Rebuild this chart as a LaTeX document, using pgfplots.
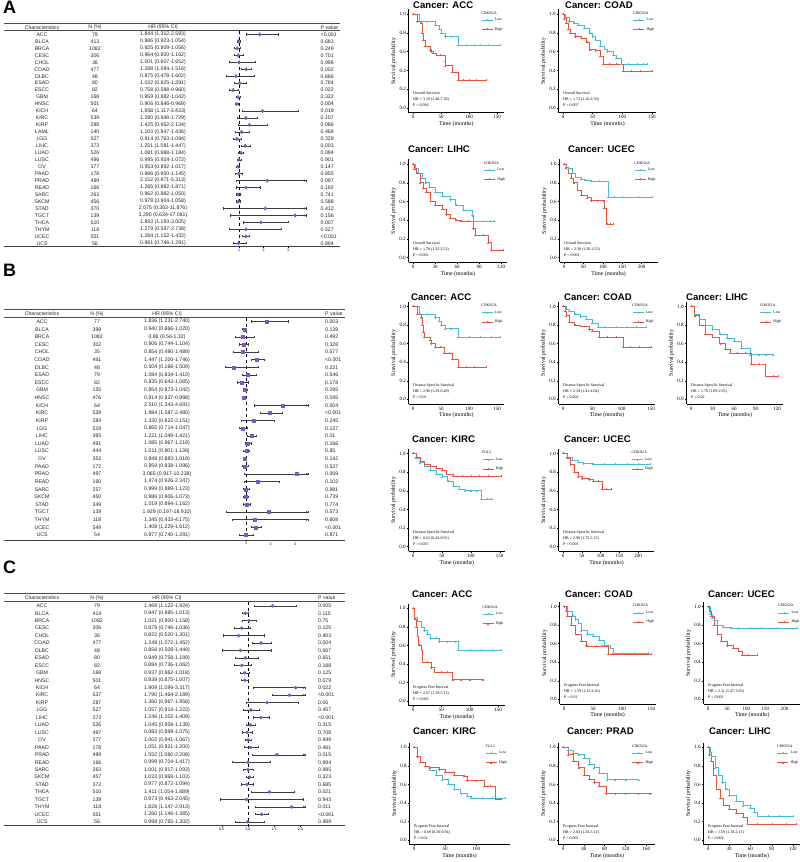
\documentclass[border=0pt]{standalone}
\usepackage{pgfplots}
\pgfplotsset{compat=1.18}
\usepackage{pgfplotstable}
\usetikzlibrary{arrows.meta}
\usepackage{fontspec}
\setmainfont{Liberation Sans}
\newfontfamily\kmf{Liberation Serif}
\definecolor{lowc}{RGB}{68,187,215}
\definecolor{highc}{RGB}{233,83,62}
\definecolor{purp}{RGB}{124,88,192}
\definecolor{whisk}{RGB}{60,60,60}

\pgfplotstableread[col sep=comma]{
name,n,hr,lo,hi,hrtxt,p
ACC,79,1.844,1.312,2.593,1.844 (1.312-2.593),<0.001
BLCA,413,0.986,0.923,1.054,0.986 (0.923-1.054),0.683
BRCA,1082,0.925,0.809,1.056,0.925 (0.809-1.056),0.249
CESC,306,0.964,0.800,1.162,0.964 (0.800-1.162),0.701
CHOL,36,1.001,0.607,1.652,1.001 (0.607-1.652),0.996
COAD,477,1.288,1.094,1.516,1.288 (1.094-1.516),0.002
DLBC,48,0.875,0.478,1.602,0.875 (0.478-1.602),0.666
ESAD,80,1.032,0.825,1.291,1.032 (0.825-1.291),0.784
ESCC,82,0.758,0.598,0.960,0.758 (0.598-0.960),0.022
GBM,168,0.959,0.882,1.042,0.959 (0.882-1.042),0.322
HNSC,501,0.906,0.846,0.969,0.906 (0.846-0.969),0.004
KICH,64,1.958,1.117,3.433,1.958 (1.117-3.433),0.019
KIRC,539,1.280,0.948,1.729,1.280 (0.948-1.729),0.107
KIRP,288,1.425,0.952,2.134,1.425 (0.952-2.134),0.086
LAML,140,1.103,0.847,1.436,1.103 (0.847-1.436),0.468
LGG,527,0.914,0.763,1.094,0.914 (0.763-1.094),0.329
LIHC,373,1.251,1.081,1.447,1.251 (1.081-1.447),0.003
LUAD,526,1.081,0.988,1.184,1.081 (0.988-1.184),0.094
LUSC,496,0.995,0.924,1.072,0.995 (0.924-1.072),0.901
OV,377,0.953,0.892,1.017,0.953 (0.892-1.017),0.147
PAAD,178,0.986,0.850,1.145,0.986 (0.850-1.145),0.855
PRAD,499,2.152,0.871,5.313,2.152 (0.871-5.313),0.097
READ,166,1.285,0.882,1.871,1.285 (0.882-1.871),0.192
SARC,263,0.962,0.882,1.050,0.962 (0.882-1.050),0.741
SKCM,456,0.978,0.904,1.058,0.978 (0.904-1.058),0.588
STAD,370,2.075,0.363,11.876,2.075 (0.363-11.876),0.412
TGCT,139,3.290,0.634,17.081,3.290 (0.634-17.081),0.156
THCA,510,1.893,1.193,3.005,1.893 (1.193-3.005),0.007
THYM,118,1.279,0.597,2.738,1.279 (0.597-2.738),0.527
UCEC,551,1.284,1.152,1.432,1.284 (1.152-1.432),<0.001
UCS,56,0.981,0.746,1.291,0.981 (0.746-1.291),0.894
}\tabA

\pgfplotstableread[col sep=comma]{
name,n,hr,lo,hi,hrtxt,p
ACC,77,1.836,1.231,2.740,1.836 (1.231-2.740),0.003
BLCA,399,0.940,0.866,1.020,0.940 (0.866-1.020),0.139
BRCA,1082,0.86,0.56,1.32,0.86 (0.56-1.32),0.492
CESC,302,0.906,0.744,1.104,0.906 (0.744-1.104),0.328
CHOL,35,0.854,0.490,1.489,0.854 (0.490-1.489),0.577
COAD,461,1.447,1.200,1.746,1.447 (1.200-1.746),<0.001
DLBC,48,0.504,0.168,1.509,0.504 (0.168-1.509),0.221
ESAD,79,1.084,0.834,1.410,1.084 (0.834-1.410),0.546
ESCC,82,0.835,0.643,1.085,0.835 (0.643-1.085),0.178
GBM,155,0.954,0.873,1.042,0.954 (0.873-1.042),0.295
HNSC,476,0.914,0.837,0.998,0.914 (0.837-0.998),0.045
KICH,64,2.510,1.343,4.691,2.510 (1.343-4.691),0.004
KIRC,528,1.984,1.587,2.480,1.984 (1.587-2.480),<0.001
KIRP,284,1.330,0.822,2.151,1.330 (0.822-2.151),0.245
LGG,519,0.865,0.714,1.047,0.865 (0.714-1.047),0.137
LIHC,365,1.221,1.049,1.421,1.221 (1.049-1.421),0.01
LUAD,491,1.085,0.967,1.218,1.085 (0.967-1.218),0.166
LUSC,444,1.011,0.901,1.136,1.011 (0.901-1.136),0.85
OV,352,0.948,0.883,1.018,0.948 (0.883-1.018),0.142
PAAD,172,0.959,0.838,1.096,0.959 (0.838-1.096),0.537
PRAD,497,3.065,0.917,10.238,3.065 (0.917-10.238),0.069
READ,160,1.474,0.926,2.347,1.474 (0.926-2.347),0.102
SARC,257,0.999,0.889,1.123,0.999 (0.889-1.123),0.981
SKCM,450,0.986,0.906,1.073,0.986 (0.906-1.073),0.739
STAD,349,1.019,0.894,1.162,1.019 (0.894-1.162),0.774
TGCT,139,1.929,0.197,18.910,1.929 (0.197-18.910),0.573
THYM,118,1.345,0.433,4.175,1.345 (0.433-4.175),0.608
UCEC,549,1.408,1.229,1.612,1.408 (1.229-1.612),<0.001
UCS,54,0.977,0.740,1.291,0.977 (0.740-1.291),0.871
}\tabB

\pgfplotstableread[col sep=comma]{
name,n,hr,lo,hi,hrtxt,p
ACC,79,1.469,1.122,1.924,1.469 (1.122-1.924),0.005
BLCA,414,0.947,0.885,1.013,0.947 (0.885-1.013),0.115
BRCA,1082,1.021,0.900,1.158,1.021 (0.900-1.158),0.75
CESC,306,0.879,0.746,1.036,0.879 (0.746-1.036),0.125
CHOL,36,0.822,0.520,1.301,0.822 (0.520-1.301),0.403
COAD,477,1.248,1.072,1.452,1.248 (1.072-1.452),0.004
DLBC,48,0.858,0.508,1.449,0.858 (0.508-1.449),0.567
ESAD,80,0.949,0.758,1.189,0.949 (0.758-1.189),0.651
ESCC,82,0.884,0.736,1.062,0.884 (0.736-1.062),0.188
GBM,168,0.937,0.862,1.018,0.937 (0.862-1.018),0.125
HNSC,501,0.939,0.875,1.007,0.939 (0.875-1.007),0.079
KICH,64,1.909,1.099,3.317,1.909 (1.099-3.317),0.022
KIRC,537,1.790,1.464,2.189,1.790 (1.464-2.189),<0.001
KIRP,287,1.360,0.967,1.958,1.360 (0.967-1.958),0.06
LGG,527,1.057,0.914,1.223,1.057 (0.914-1.223),0.457
LIHC,373,1.246,1.102,1.409,1.246 (1.102-1.409),<0.001
LUAD,526,1.045,0.958,1.139,1.045 (0.958-1.139),0.315
LUSC,497,0.983,0.899,1.075,0.983 (0.899-1.075),0.708
OV,377,1.002,0.941,1.067,1.002 (0.941-1.067),0.949
PAAD,178,1.051,0.921,1.200,1.051 (0.921-1.200),0.461
PRAD,499,1.552,1.090,2.208,1.552 (1.090-2.208),0.015
READ,166,0.999,0.704,1.417,0.999 (0.704-1.417),0.994
SARC,263,1.001,0.917,1.093,1.001 (0.917-1.093),0.985
SKCM,457,1.033,0.968,1.103,1.033 (0.968-1.103),0.323
STAD,372,0.977,0.872,1.094,0.977 (0.872-1.094),0.685
THCA,510,1.411,1.054,1.889,1.411 (1.054-1.889),0.021
TGCT,139,0.973,0.463,2.045,0.973 (0.463-2.045),0.943
THYM,118,1.828,1.147,2.913,1.828 (1.147-2.913),0.011
UCEC,551,1.260,1.146,1.385,1.260 (1.146-1.385),<0.001
UCS,56,0.998,0.765,1.302,0.998 (0.765-1.302),0.989
}\tabC

\pgfplotsset{
  km/.style={scale only axis, anchor=origin, axis lines=left,
    axis line style={-, line width=0.4pt},
    ymin=-0.05, ymax=1.05, ytick={0,0.2,0.4,0.6,0.8,1},
    yticklabel style={/pgf/number format/.cd, fixed, fixed zerofill, precision=1},
    /pgf/number format/assume math mode=true,
    tick align=outside, major tick length=1.5pt,
    tick style={black, line width=0.4pt},
    tick label style={font=\kmf\fontsize{5}{6}\selectfont, inner sep=1.2pt},
    label style={font=\kmf\fontsize{5.8}{7}\selectfont},
    xlabel={Time (months)}, ylabel={Survival probability},
    xlabel style={yshift=2pt}, ylabel style={yshift=-1.5pt},
    clip=false,
    legend style={at={(rel axis cs:0.76,0.935)}, anchor=north west, draw=none, fill=none,
      font=\kmf\fontsize{3.8}{4.5}\selectfont, inner sep=0pt, row sep=1.2pt,
      cells={anchor=west}},
    legend image code/.code={\draw[mark repeat=2, mark phase=2, ##1] plot coordinates {(0pt,0pt) (5.5pt,0pt) (11pt,0pt)};},
  },
  low/.style={lowc, const plot, mark=+, mark size=1pt, line width=0.5pt, mark options={line width=0.35pt}},
  high/.style={highc, const plot, mark=+, mark size=1pt, line width=0.5pt, mark options={line width=0.35pt}},
  kmat/.style n args={3}{at={(#1)}, width=#2pt, height=#3pt},
  fst/.style={scale only axis, anchor=south west, axis x line=bottom, axis y line=none,
    axis line style={-, line width=0.9pt, black!75}, ytick=\empty,
    tick align=outside, major tick length=1.3pt, tick style={line width=0.3pt, black},
    /pgf/number format/assume math mode=true,
    xticklabel style={font=\fontsize{3.6}{4}\selectfont, inner sep=1pt},
    clip=false},
  col/.style={draw=none, mark=none, nodes near coords, point meta=explicit symbolic,
    every node near coord/.append style={anchor=center, font=\fontsize{5.2}{6}\selectfont, inner sep=0pt, text=black!85}},
  colw/.style={col, every node near coord/.append style={anchor=west}},
  whiskers/.style={error bars/.cd, x dir=both, x explicit, error bar style={whisk, line width=0.5pt},
    error mark=|, error mark options={whisk, mark size=1.1pt, line width=0.5pt}},
}
\tikzset{
  kmleg/.style={anchor=south west, inner sep=0pt, font=\kmf\fontsize{3.8}{4.5}\selectfont},
  kmtxt/.style={anchor=north west, inner sep=0pt, align=left, font=\kmf\fontsize{4}{6}\selectfont},
  hdr/.style={font=\fontsize{5.2}{6}\selectfont, inner sep=0pt, text=black!85},
  kmtitle/.style={anchor=base west, inner sep=0pt, font=\bfseries\fontsize{9.6}{11}\selectfont},
  plab/.style={anchor=north west, inner sep=0pt, font=\bfseries\fontsize{18}{20}\selectfont},
}

\begin{document}
\begin{tikzpicture}[x=1pt,y=1pt]
\useasboundingbox (0,0) rectangle (800,862);
% anchor points of all axes
\coordinate (fA) at (4,615.3);
\coordinate (fB) at (4,322);
\coordinate (fC) at (4,36.3);
\coordinate (kA1) at (413,754);
\coordinate (kA2) at (563,754);
\coordinate (kA3) at (413,604.3);
\coordinate (kA4) at (564,604.3);
\coordinate (kB1) at (413,462.7);
\coordinate (kB2) at (563,462.7);
\coordinate (kB3) at (691,462.7);
\coordinate (kB4) at (413,315.3);
\coordinate (kB5) at (563,315.3);
\coordinate (kC1) at (413,161);
\coordinate (kC2) at (564,162.7);
\coordinate (kC3) at (708,162.7);
\coordinate (kC4) at (414,22);
\coordinate (kC5) at (563,22);
\coordinate (kC6) at (708,22);

% panel labels
\node[plab] at (3,861) {A};
\node[plab] at (3,598) {B};
\node[plab] at (3,301) {C};

% ================= FOREST A =================
\begin{axis}[fst, at={(fA)}, width=336pt, height=223.7pt,
  xmin=-8.592, xmax=5.122, ymin=-30.49, ymax=1.65, xtick={1,2,3}]
\draw[line width=0.5pt, black!70] (axis cs:-8.592,1.65) -- (axis cs:5.122,1.65);
\draw[line width=0.4pt, black!70] (axis cs:-8.592,0.59) -- (axis cs:5.122,0.59);
\draw[dashed, line width=0.5pt] (axis cs:1,0.5) -- (axis cs:1,-30.49);
\node[hdr] at (axis cs:-7.041,1.02) {Characteristics};
\node[hdr] at (axis cs:-4.878,1.02) {N (\%)};
\node[hdr] at (axis cs:-2.102,1.02) {HR (95\% CI)};
\node[hdr, anchor=west] at (axis cs:4.327,1.02) {P value};
\addplot[col] table[x expr=-7.041, y expr=-\coordindex, meta=name] {\tabA};
\addplot[col] table[x expr=-4.878, y expr=-\coordindex, meta=n] {\tabA};
\addplot[col] table[x expr=-2.102, y expr=-\coordindex, meta=hrtxt] {\tabA};
\addplot[colw] table[x expr=4.327, y expr=-\coordindex, meta=p] {\tabA};
\addplot[only marks, mark=diamond*, mark size=1.8pt, purp, whiskers]
  table[x=hr, y expr=-\coordindex, x error plus expr={min(\thisrow{hi},3.735)-\thisrow{hr}},
        x error minus expr={\thisrow{hr}-\thisrow{lo}}] {\tabA};
\addplot[whisk, line width=0.5pt, -{Stealth[length=2.4pt,width=2.2pt]}, quiver={u=0.12,v=0}, mark=none]
  coordinates {(3.62,-21) (3.62,-25) (3.62,-26)};
\end{axis}

% ================= FOREST B =================
\begin{axis}[fst, at={(fB)}, width=341pt, height=231.1pt,
  xmin=-8.878, xmax=5.041, ymin=-28.66, ymax=1.667, xtick={1,2,3}]
\draw[line width=0.5pt, black!70] (axis cs:-8.878,1.667) -- (axis cs:5.041,1.667);
\draw[line width=0.4pt, black!70] (axis cs:-8.878,0.55) -- (axis cs:5.041,0.55);
\draw[dashed, line width=0.5pt] (axis cs:1,0.5) -- (axis cs:1,-28.66);
\node[hdr] at (axis cs:-7.327,1.01) {Characteristics};
\node[hdr] at (axis cs:-5.082,1.01) {N (\%)};
\node[hdr] at (axis cs:-2.224,1.01) {HR (95\% CI)};
\node[hdr, anchor=west] at (axis cs:4.224,1.01) {P value};
\addplot[col] table[x expr=-7.327, y expr=-\coordindex, meta=name] {\tabB};
\addplot[col] table[x expr=-5.082, y expr=-\coordindex, meta=n] {\tabB};
\addplot[col] table[x expr=-2.224, y expr=-\coordindex, meta=hrtxt] {\tabB};
\addplot[colw] table[x expr=4.224, y expr=-\coordindex, meta=p] {\tabB};
\addplot[only marks, mark=square*, mark size=1.5pt, purp, whiskers]
  table[x=hr, y expr=-\coordindex, x error plus expr={min(\thisrow{hi},3.531)-\thisrow{hr}},
        x error minus expr={\thisrow{hr}-\thisrow{lo}}] {\tabB};
\addplot[whisk, line width=0.5pt, -{Stealth[length=2.4pt,width=2.2pt]}, quiver={u=0.12,v=0}, mark=none]
  coordinates {(3.416,-11) (3.416,-20) (3.416,-25) (3.416,-26)};
\end{axis}

% ================= FOREST C =================
\begin{axis}[fst, at={(fC)}, width=341pt, height=232.6pt,
  xmin=-3.648, xmax=2.848, ymin=-29.52, ymax=1.705, xtick={0.5,1,1.5,2},
  xticklabel style={/pgf/number format/.cd, fixed, fixed zerofill, precision=1}]
\draw[line width=0.5pt, black!70] (axis cs:-3.648,1.705) -- (axis cs:2.848,1.705);
\draw[line width=0.4pt, black!70] (axis cs:-3.648,0.56) -- (axis cs:2.848,0.56);
\draw[dashed, line width=0.5pt] (axis cs:1,0.5) -- (axis cs:1,-29.52);
\node[hdr] at (axis cs:-2.924,1.07) {Characteristics};
\node[hdr] at (axis cs:-1.876,1.07) {N (\%)};
\node[hdr] at (axis cs:-0.543,1.07) {HR (95\% CI)};
\node[hdr, anchor=west] at (axis cs:2.333,1.07) {P value};
\addplot[col] table[x expr=-2.924, y expr=-\coordindex, meta=name] {\tabC};
\addplot[col] table[x expr=-1.876, y expr=-\coordindex, meta=n] {\tabC};
\addplot[col] table[x expr=-0.543, y expr=-\coordindex, meta=hrtxt] {\tabC};
\addplot[colw] table[x expr=2.333, y expr=-\coordindex, meta=p] {\tabC};
\addplot[only marks, mark=*, mark size=1.6pt, purp, whiskers]
  table[x=hr, y expr=-\coordindex, x error plus expr={min(\thisrow{hi},2.086)-\thisrow{hr}},
        x error minus expr={\thisrow{hr}-\thisrow{lo}}] {\tabC};
\addplot[whisk, line width=0.5pt, -{Stealth[length=2.4pt,width=2.2pt]}, quiver={u=0.055,v=0}, mark=none]
  coordinates {(2.031,-11) (2.031,-12) (2.031,-20) (2.031,-27)};
\end{axis}

% ================= KM titles =================
\node[kmtitle] at (413,853) {Cancer: ACC};
\node[kmtitle] at (565,853) {Cancer: COAD};
\node[kmtitle] at (408,709) {Cancer: LIHC};
\node[kmtitle] at (568,709) {Cancer: UCEC};
\node[kmtitle] at (411,561) {Cancer: ACC};
\node[kmtitle] at (564,561) {Cancer: COAD};
\node[kmtitle] at (686,561) {Cancer: LIHC};
\node[kmtitle] at (412,419) {Cancer: KIRC};
\node[kmtitle] at (564,419) {Cancer: UCEC};
\node[kmtitle] at (412,264) {Cancer: ACC};
\node[kmtitle] at (565,264) {Cancer: COAD};
\node[kmtitle] at (708,264) {Cancer: UCEC};
\node[kmtitle] at (413,127) {Cancer: KIRC};
\node[kmtitle] at (567,127) {Cancer: PRAD};
\node[kmtitle] at (709,127) {Cancer: LIHC};

% ---------- A ACC ----------
\begin{axis}[km, kmat={kA1}{95.48}{103.4}, xmin=-7.75, xmax=162.75, xtick={0,50,100,150}]
\addplot[low] coordinates {(0,1) (12,0.92) (25,0.92) (39,0.88) (46,0.84) (50,0.80) (57,0.76) (68,0.76) (80,0.667) (95,0.667) (110,0.667) (120,0.667) (135,0.667) (155,0.667)}; \addlegendentry{Low}
\addplot[high] coordinates {(0,1) (8,0.92) (15,0.9) (16,0.80) (18,0.72) (21,0.66) (30,0.62) (33,0.60) (36,0.58) (42,0.56) (48,0.56) (57,0.50) (58,0.45) (70,0.38) (80,0.30) (90,0.30) (100,0.30) (112,0.30) (130,0.30)}; \addlegendentry{High}
\node[kmleg] at (rel axis cs:0.76,0.95) {CDKN2A};
\node[kmtxt] at (axis cs:0,0.172) {Overall Survival\\HR = 3.19 (1.40-7.28)\\P = 0.006};
\end{axis}

% ---------- A COAD ----------
\begin{axis}[km, kmat={kA2}{97.85}{103.4}, xmin=-7.5, xmax=157.5, xtick={0,50,100,150}]
\addplot[low] coordinates {(0,1) (3,0.97) (10,0.92) (18,0.90) (25,0.88) (35,0.85) (45,0.80) (50,0.76) (55,0.72) (63,0.66) (70,0.63) (75,0.60) (85,0.56) (90,0.53) (98,0.47) (110,0.47) (125,0.47) (135,0.47) (142,0.47)}; \addlegendentry{Low}
\addplot[high] coordinates {(0,1) (2,0.95) (5,0.90) (8,0.84) (12,0.80) (20,0.76) (30,0.74) (40,0.70) (45,0.62) (55,0.61) (62,0.55) (68,0.47) (78,0.47) (90,0.47) (102,0.39) (115,0.39) (130,0.39) (150,0.39)}; \addlegendentry{High}
\node[kmleg] at (rel axis cs:0.76,0.95) {CDKN2A};
\node[kmtxt] at (axis cs:0,0.172) {Overall Survival\\HR = 1.72 (1.16-2.56)\\P = 0.007};
\end{axis}

% ---------- A LIHC ----------
\begin{axis}[km, kmat={kA3}{98.77}{103.07}, xmin=-6.1, xmax=128.1, xtick={0,30,60,90,120}]
\addplot[low] coordinates {(0,1) (3,0.95) (7,0.90) (12,0.85) (17,0.80) (22,0.75) (30,0.70) (40,0.66) (50,0.62) (58,0.56) (68,0.51) (80,0.45) (82,0.39) (95,0.39) (105,0.39) (110,0.39)}; \addlegendentry{Low}
\addplot[high] coordinates {(0,1) (2,0.95) (5,0.90) (10,0.80) (14,0.74) (18,0.70) (24,0.60) (30,0.56) (40,0.52) (45,0.46) (50,0.42) (58,0.40) (65,0.39) (75,0.39) (82,0.31) (84,0.24) (95,0.24) (102,0.16) (106,0.08) (122,0.08)}; \addlegendentry{High}
\node[kmleg] at (rel axis cs:0.76,0.95) {CDKN2A};
\node[kmtxt] at (axis cs:0,0.172) {Overall Survival\\HR = 1.78 (1.25-2.52)\\P = 0.001};
\end{axis}

% ---------- A UCEC ----------
\begin{axis}[km, kmat={kA4}{98.16}{103.07}, xmin=-11.5, xmax=241.5, xtick={0,50,100,150,200}]
\addplot[low] coordinates {(0,1) (5,0.97) (10,0.95) (20,0.90) (30,0.86) (45,0.84) (55,0.83) (70,0.82) (90,0.82) (113,0.65) (130,0.65) (150,0.65) (190,0.65) (228,0.65)}; \addlegendentry{Low}
\addplot[high] coordinates {(0,1) (5,0.96) (12,0.90) (18,0.85) (25,0.80) (35,0.72) (45,0.67) (60,0.64) (70,0.61) (85,0.61) (100,0.61) (104,0.53) (110,0.36) (120,0.36) (127,0.36)}; \addlegendentry{High}
\node[kmleg] at (rel axis cs:0.76,0.95) {CDKN2A};
\node[kmtxt] at (axis cs:0,0.172) {Overall Survival\\HR = 2.30 (1.50-3.53)\\P < 0.001};
\end{axis}

% ---------- B ACC ----------
\begin{axis}[km, kmat={kB1}{95.48}{102.19}, xmin=-7.75, xmax=162.75, xtick={0,50,100,150}]
\addplot[low] coordinates {(0,1) (12,0.917) (25,0.917) (39,0.88) (46,0.84) (50,0.80) (57,0.76) (68,0.76) (80,0.667) (100,0.667) (120,0.667) (140,0.667) (155,0.667)}; \addlegendentry{Low}
\addplot[high] coordinates {(0,1) (8,0.92) (15,0.88) (16,0.80) (18,0.72) (20,0.667) (30,0.64) (33,0.60) (40,0.56) (48,0.56) (56,0.50) (65,0.50) (70,0.43) (80,0.345) (95,0.345) (110,0.345) (130,0.345)}; \addlegendentry{High}
\node[kmleg] at (rel axis cs:0.76,0.95) {CDKN2A};
\node[kmtxt] at (axis cs:0,0.172) {Disease Specific Survival\\HR = 2.90 (1.29-6.49)\\P = 0.01};
\end{axis}

% ---------- B COAD ----------
\begin{axis}[km, kmat={kB2}{96.86}{102.19}, xmin=-7.5, xmax=157.5, xtick={0,50,100,150}]
\addplot[low] coordinates {(0,1) (5,0.97) (10,0.95) (20,0.92) (30,0.89) (40,0.86) (50,0.82) (60,0.78) (70,0.775) (90,0.775) (110,0.775) (125,0.775) (142,0.775)}; \addlegendentry{Low}
\addplot[high] coordinates {(0,1) (3,0.95) (5,0.90) (10,0.83) (20,0.80) (30,0.79) (45,0.75) (50,0.73) (62,0.67) (75,0.67) (90,0.67) (102,0.56) (115,0.56) (130,0.56) (150,0.56)}; \addlegendentry{High}
\node[kmleg] at (rel axis cs:0.76,0.95) {CDKN2A};
\node[kmtxt] at (axis cs:0,0.172) {Disease Specific Survival\\HR = 2.39 (1.41-4.04)\\P = 0.001};
\end{axis}

% ---------- B LIHC ----------
\begin{axis}[km, kmat={kB3}{96.22}{102.19}, xmin=-6.1, xmax=128.1, xtick={0,30,60,90,120}]
\addplot[low] coordinates {(0,1) (5,0.92) (12,0.86) (20,0.80) (30,0.75) (40,0.70) (50,0.66) (60,0.63) (70,0.55) (82,0.48) (95,0.48) (105,0.48) (115,0.48)}; \addlegendentry{Low}
\addplot[high] coordinates {(0,1) (5,0.90) (12,0.80) (20,0.70) (30,0.67) (40,0.60) (48,0.54) (55,0.50) (65,0.50) (75,0.50) (84,0.38) (95,0.38) (104,0.25) (115,0.25) (122,0.25)}; \addlegendentry{High}
\node[kmleg] at (rel axis cs:0.76,0.95) {CDKN2A};
\node[kmtxt] at (axis cs:0,0.172) {Disease Specific Survival\\HR = 1.70 (1.09-2.65)\\P = 0.02};
\end{axis}

% ---------- B KIRC ----------
\begin{axis}[km, kmat={kB4}{96.64}{102.63}, xmin=-7.6, xmax=159.6, xtick={0,50,100,150}]
\addplot[low] coordinates {(0,1) (5,0.95) (12,0.90) (20,0.86) (30,0.82) (40,0.78) (50,0.75) (60,0.70) (70,0.65) (80,0.62) (90,0.60) (100,0.60) (110,0.60) (118,0.51) (128,0.51) (136,0.51)}; \addlegendentry{Low}
\addplot[high] coordinates {(0,1) (5,0.96) (12,0.92) (20,0.88) (30,0.86) (40,0.84) (50,0.82) (58,0.78) (70,0.76) (85,0.76) (100,0.76) (115,0.76) (130,0.76) (152,0.76)}; \addlegendentry{High}
\node[kmleg] at (rel axis cs:0.76,0.95) {FGL2};
\node[kmtxt] at (axis cs:0,0.172) {Disease Specific Survival\\HR = 0.62 (0.42-0.91)\\P = 0.015};
\end{axis}

% ---------- B UCEC ----------
\begin{axis}[km, kmat={kB5}{95.7}{102.63}, xmin=-11.6, xmax=243.6, xtick={0,50,100,150,200}]
\addplot[low] coordinates {(0,1) (10,0.96) (25,0.93) (40,0.91) (55,0.89) (80,0.885) (110,0.885) (140,0.885) (170,0.885) (200,0.885) (232,0.885)}; \addlegendentry{Low}
\addplot[high] coordinates {(0,1) (10,0.95) (20,0.88) (30,0.80) (40,0.75) (50,0.73) (70,0.72) (80,0.70) (95,0.70) (105,0.62) (115,0.62) (128,0.62)}; \addlegendentry{High}
\node[kmleg] at (rel axis cs:0.76,0.95) {CDKN2A};
\node[kmtxt] at (axis cs:0,0.172) {Disease Specific Survival\\HR = 2.98 (1.72-5.15)\\P < 0.001};
\end{axis}

% ---------- C ACC ----------
\begin{axis}[km, kmat={kC1}{96.67}{101.97}, xmin=-7.75, xmax=162.75, xtick={0,50,100,150}]
\addplot[low] coordinates {(0,1) (3,0.90) (8,0.86) (15,0.80) (20,0.76) (25,0.72) (30,0.68) (40,0.68) (46,0.64) (60,0.64) (75,0.64) (80,0.55) (100,0.55) (120,0.55) (140,0.55) (155,0.55)}; \addlegendentry{Low}
\addplot[high] coordinates {(0,1) (3,0.88) (5,0.80) (8,0.70) (10,0.60) (15,0.55) (17,0.42) (25,0.42) (32,0.36) (38,0.31) (50,0.31) (60,0.31) (70,0.23) (85,0.23) (100,0.23) (123,0.23)}; \addlegendentry{High}
\node[kmleg] at (rel axis cs:0.76,0.95) {CDKN2A};
\node[kmtxt] at (axis cs:0,0.172) {Progress Free Interval\\HR = 2.67 (1.39-5.13)\\P = 0.003};
\end{axis}

% ---------- C COAD ----------
\begin{axis}[km, kmat={kC2}{96.03}{101.97}, xmin=-7.5, xmax=157.5, xtick={0,50,100,150}]
\addplot[low] coordinates {(0,1) (5,0.95) (15,0.90) (20,0.86) (25,0.82) (30,0.74) (40,0.70) (50,0.68) (60,0.64) (70,0.58) (80,0.55) (85,0.50) (100,0.50) (120,0.50) (145,0.50)}; \addlegendentry{Low}
\addplot[high] coordinates {(0,1) (3,0.95) (5,0.90) (12,0.80) (20,0.70) (30,0.63) (38,0.58) (40,0.57) (55,0.57) (65,0.57) (76,0.49) (95,0.49) (115,0.49) (135,0.49) (150,0.49)}; \addlegendentry{High}
\node[kmleg] at (rel axis cs:0.76,0.95) {CDKN2A};
\node[kmtxt] at (axis cs:0,0.172) {Progress Free Interval\\HR = 1.59 (1.12-2.26)\\P = 0.01};
\end{axis}

% ---------- C UCEC ----------
\begin{axis}[km, kmat={kC3}{97.74}{101.97}, xmin=-11.6, xmax=243.6, xtick={0,50,100,150,200}]
\addplot[low] coordinates {(0,1) (5,0.92) (10,0.88) (15,0.85) (25,0.80) (40,0.78) (60,0.77) (80,0.77) (110,0.77) (140,0.77) (180,0.77) (232,0.77)}; \addlegendentry{Low}
\addplot[high] coordinates {(0,1) (4,0.95) (8,0.90) (15,0.80) (25,0.70) (35,0.63) (50,0.58) (65,0.55) (80,0.52) (90,0.48) (105,0.48) (128,0.48)}; \addlegendentry{High}
\node[kmleg] at (rel axis cs:0.76,0.95) {CDKN2A};
\node[kmtxt] at (axis cs:0,0.172) {Progress Free Interval\\HR = 2.11 (1.47-3.03)\\P < 0.001};
\end{axis}

% ---------- C KIRC ----------
\begin{axis}[km, kmat={kC4}{100.05}{101.97}, xmin=-7.3, xmax=153.3, xtick={0,50,100}]
\addplot[low] coordinates {(0,1) (5,0.90) (10,0.84) (18,0.80) (25,0.75) (35,0.70) (45,0.65) (55,0.60) (65,0.55) (75,0.50) (85,0.47) (92,0.45) (110,0.45) (125,0.45) (146,0.45)}; \addlegendentry{Low}
\addplot[high] coordinates {(0,1) (5,0.90) (10,0.84) (18,0.80) (25,0.78) (40,0.76) (50,0.73) (65,0.70) (80,0.69) (85,0.64) (100,0.64) (112,0.58) (122,0.58) (131,0.44) (140,0.44)}; \addlegendentry{High}
\node[kmleg] at (rel axis cs:0.76,0.95) {FGL2};
\node[kmtxt] at (axis cs:0,0.172) {Progress Free Interval\\HR = 0.69 (0.50-0.94)\\P = 0.02};
\end{axis}

% ---------- C PRAD ----------
\begin{axis}[km, kmat={kC5}{96.28}{101.97}, xmin=-8.4, xmax=176.4, xtick={0,40,80,120,160}]
\addplot[low] coordinates {(0,1) (10,0.97) (20,0.94) (30,0.92) (40,0.88) (50,0.82) (60,0.78) (70,0.72) (85,0.65) (100,0.65) (120,0.65) (145,0.65)}; \addlegendentry{Low}
\addplot[high] coordinates {(0,1) (10,0.92) (20,0.85) (30,0.78) (40,0.70) (50,0.66) (60,0.62) (70,0.58) (83,0.50) (100,0.50) (120,0.50) (145,0.50) (168,0.50)}; \addlegendentry{High}
\node[kmleg] at (rel axis cs:0.76,0.95) {CDKN2A};
\node[kmtxt] at (axis cs:0,0.172) {Progress Free Interval\\HR = 2.04 (1.34-3.12)\\P = 0.001};
\end{axis}

% ---------- C LIHC ----------
\begin{axis}[km, kmat={kC6}{96.57}{101.97}, xmin=-6.2, xmax=130.2, xtick={0,30,60,90,120}]
\addplot[low] coordinates {(0,1) (3,0.95) (5,0.90) (10,0.78) (15,0.70) (20,0.62) (25,0.55) (30,0.48) (40,0.42) (50,0.37) (60,0.34) (65,0.30) (70,0.26) (85,0.26) (100,0.26) (120,0.26)}; \addlegendentry{Low}
\addplot[high] coordinates {(0,1) (2,0.92) (4,0.85) (8,0.70) (12,0.55) (17,0.45) (22,0.38) (30,0.33) (40,0.29) (50,0.25) (56,0.17) (70,0.17) (90,0.17) (110,0.17) (124,0.17)}; \addlegendentry{High}
\node[kmleg] at (rel axis cs:0.76,0.95) {CDKN2A};
\node[kmtxt] at (axis cs:0,0.172) {Progress Free Interval\\HR = 1.59 (1.18-2.11)\\P = 0.002};
\end{axis}

\end{tikzpicture}
\end{document}
